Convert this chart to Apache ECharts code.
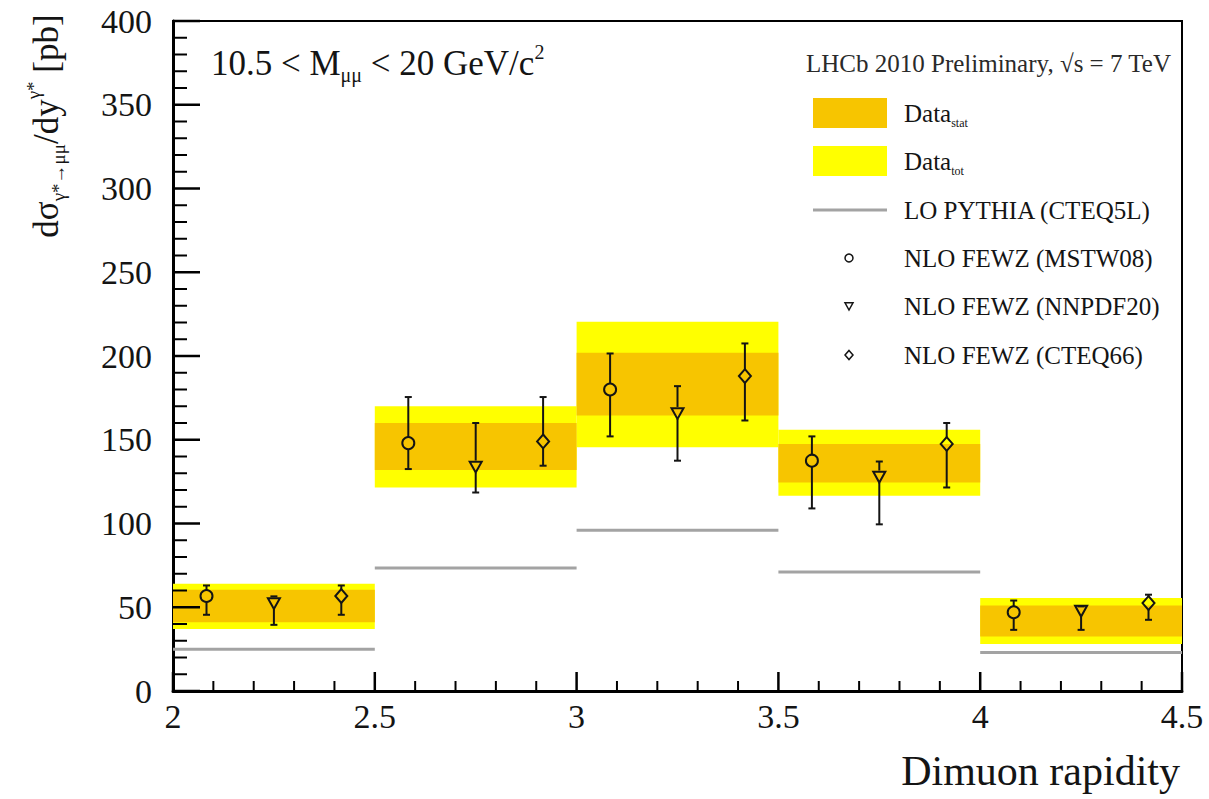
<!DOCTYPE html>
<html>
<head>
<meta charset="utf-8">
<script src="https://cdn.jsdelivr.net/npm/echarts@6/dist/echarts.min.js"></script>
<style>
  html, body { margin: 0; padding: 0; background: #fff; }
  #chart { width: 1209px; height: 799px; }
</style>
</head>
<body>
<div id="chart"></div>
<script>
// Rapidity bins
const binLo = [2.0, 2.5, 3.0, 3.5, 4.0];
const binHi = [2.5, 3.0, 3.5, 4.0, 4.5];

// Measured cross-section bands [pb]: total and statistical uncertainty
const totLo  = [37.0, 121.5, 145.5, 116.5, 28.0];
const totHi  = [64.0, 170.0, 220.5, 156.0, 55.5];
const statLo = [41.0, 132.0, 164.5, 124.5, 32.5];
const statHi = [60.5, 160.0, 202.0, 147.5, 51.0];

// LO PYTHIA (CTEQ5L) prediction per bin
const pythia = [25.0, 73.5, 96.0, 71.0, 23.0];

// NLO FEWZ predictions, drawn at 1/6, 1/2 and 5/6 of each bin
const mstwX  = [2.083, 2.583, 3.083, 3.583, 4.083];
const mstwV  = [56.7, 148.0, 180.0, 137.5, 47.0];
const mstwLo = [45.5, 132.5, 152.0, 109.0, 36.5];
const mstwHi = [63.0, 175.5, 201.5, 152.0, 54.0];

const nnpdfX  = [2.25, 2.75, 3.25, 3.75, 4.25];
const nnpdfV  = [52.5, 134.0, 166.0, 128.0, 48.0];
const nnpdfLo = [39.5, 118.5, 137.5, 99.5, 36.5];
const nnpdfHi = [56.5, 160.0, 182.0, 137.0, 50.5];

const cteqX  = [2.417, 2.917, 3.417, 3.917, 4.417];
const cteqV  = [56.7, 149.0, 188.0, 147.5, 52.5];
const cteqLo = [45.5, 134.5, 161.5, 121.5, 42.5];
const cteqHi = [63.0, 175.5, 207.5, 160.0, 57.5];

// Axis ticks (major), each split into 5 minor divisions
const xTicks = [2, 2.5, 3, 3.5, 4, 4.5];
const yTicks = [0, 50, 100, 150, 200, 250, 300, 350, 400];
const minorDivisions = 5;

const SERIF = '"Liberation Serif", "Times New Roman", serif';
const ORANGE = '#f7c500';
const YELLOW = '#ffff00';
const GREY = '#a3a3a3';
const INK = '#141414';

const chart = echarts.init(document.getElementById('chart'), null, { renderer: 'svg' });

// Major + minor tick positions: [value, isMajor]
function tickList(majors, sub) {
  const out = [];
  for (let i = 0; i < majors.length - 1; i++) {
    const step = (majors[i + 1] - majors[i]) / sub;
    for (let k = 0; k < sub; k++) out.push([majors[i] + k * step, k === 0 ? 1 : 0]);
  }
  out.push([majors[majors.length - 1], 1]);
  return out;
}

// Inward-pointing frame ticks
function tickSeries(isX) {
  const list = tickList(isX ? xTicks : yTicks, minorDivisions);
  return {
    type: 'custom', silent: true, z: 10, clip: false,
    data: list.map(t => isX ? [t[0], yTicks[0], t[1]] : [xTicks[0], t[0], t[1]]),
    encode: { x: 0, y: 1 },
    renderItem(params, api) {
      const p = api.coord([api.value(0), api.value(1)]);
      const major = api.value(2) === 1;
      const len = isX ? (major ? 19 : 10) : (major ? 27 : 14);
      const shape = isX ? { x1: p[0], y1: p[1], x2: p[0], y2: p[1] - len }
                        : { x1: p[0], y1: p[1], x2: p[0] + len, y2: p[1] };
      return { type: 'line', shape, style: { stroke: '#000', lineWidth: major ? 2.5 : 2 } };
    }
  };
}

function bandSeries(name, lo, hi, color, z) {
  return {
    type: 'custom', name, silent: true, z,
    data: binLo.map((x, i) => [x, binHi[i], lo[i], hi[i]]),
    encode: { x: [0, 1], y: [2, 3] },
    renderItem(params, api) {
      const a = api.coord([api.value(0), api.value(3)]);
      const b = api.coord([api.value(1), api.value(2)]);
      return { type: 'rect', shape: { x: a[0], y: a[1], width: b[0] - a[0], height: b[1] - a[1] },
               style: { fill: color } };
    }
  };
}

function stepSeries(name, vals) {
  return {
    type: 'custom', name, silent: true, z: 3,
    data: binLo.map((x, i) => [x, binHi[i], vals[i]]),
    encode: { x: [0, 1], y: 2 },
    renderItem(params, api) {
      const a = api.coord([api.value(0), api.value(2)]);
      const b = api.coord([api.value(1), api.value(2)]);
      return { type: 'line', shape: { x1: a[0], y1: a[1], x2: b[0], y2: b[1] },
               style: { stroke: GREY, lineWidth: 3 } };
    }
  };
}

function markerShape(kind, cx, cy, s, lw) {
  const style = { fill: 'none', stroke: INK, lineWidth: lw };
  if (kind === 'circle') return { type: 'circle', shape: { cx, cy, r: s }, style };
  if (kind === 'tri') return { type: 'polygon', shape: { points: [[cx - s, cy - s * 0.8], [cx + s, cy - s * 0.8], [cx, cy + s]] }, style };
  return { type: 'polygon', shape: { points: [[cx, cy - s * 1.15], [cx + s, cy], [cx, cy + s * 1.15], [cx - s, cy]] }, style };
}

function pointSeries(name, xs, v, lo, hi, kind) {
  return {
    type: 'custom', name, silent: true, z: 5,
    data: xs.map((x, i) => [x, v[i], lo[i], hi[i]]),
    encode: { x: 0, y: [1, 2, 3] },
    renderItem(params, api) {
      const c = api.coord([api.value(0), api.value(1)]);
      const yl = api.coord([api.value(0), api.value(2)])[1];
      const yh = api.coord([api.value(0), api.value(3)])[1];
      const r = 6, cap = 3.5;
      const kids = [];
      const line = (x1, y1, x2, y2) => kids.push({ type: 'line', shape: { x1, y1, x2, y2 }, style: { stroke: INK, lineWidth: 2 } });
      if (yh < c[1] - r) line(c[0], yh, c[0], c[1] - r);
      if (yl > c[1] + r) line(c[0], c[1] + r, c[0], yl);
      line(c[0] - cap, yh, c[0] + cap, yh);
      line(c[0] - cap, yl, c[0] + cap, yl);
      kids.push(markerShape(kind, c[0], c[1], r, 2));
      return { type: 'group', children: kids };
    }
  };
}

const legendX = 904;
const legendRows = [113, 161, 210, 258, 306, 355];
const legendFont = 25;
const legendText = (y, text, rich) => ({
  type: 'text', x: legendX, y,
  style: Object.assign({ text, fontFamily: SERIF, fontSize: legendFont, fill: INK, align: 'left', verticalAlign: 'middle' }, rich ? { rich } : {})
});
const subRich = {
  a: { fontFamily: SERIF, fontSize: legendFont, lineHeight: 31, fill: INK },
  s: { fontFamily: SERIF, fontSize: 12, lineHeight: 12, verticalAlign: 'bottom', fill: INK }
};

const option = {
  backgroundColor: '#fff',
  animation: false,
  grid: { left: 173, top: 21, width: 1009, height: 670, show: true, borderColor: '#000', borderWidth: 2, backgroundColor: 'transparent' },
  xAxis: {
    type: 'value', min: xTicks[0], max: xTicks[xTicks.length - 1], interval: 0.5,
    axisLine: { show: true, onZero: false, lineStyle: { color: '#000', width: 3 } },
    axisTick: { show: false },
    minorTick: { show: false },
    splitLine: { show: false },
    axisLabel: { margin: 8, fontSize: 34, fontFamily: SERIF, color: INK, formatter: v => String(v) }
  },
  yAxis: {
    type: 'value', min: yTicks[0], max: yTicks[yTicks.length - 1], interval: 50,
    axisLine: { show: true, onZero: false, lineStyle: { color: '#000', width: 3 } },
    axisTick: { show: false },
    minorTick: { show: false },
    splitLine: { show: false },
    axisLabel: { margin: 21, fontSize: 34, fontFamily: SERIF, color: INK }
  },
  series: [
    bandSeries('Data tot', totLo, totHi, YELLOW, 1),
    bandSeries('Data stat', statLo, statHi, ORANGE, 2),
    stepSeries('LO PYTHIA (CTEQ5L)', pythia),
    pointSeries('NLO FEWZ (MSTW08)', mstwX, mstwV, mstwLo, mstwHi, 'circle'),
    pointSeries('NLO FEWZ (NNPDF20)', nnpdfX, nnpdfV, nnpdfLo, nnpdfHi, 'tri'),
    pointSeries('NLO FEWZ (CTEQ66)', cteqX, cteqV, cteqLo, cteqHi, 'diamond'),
    tickSeries(true),
    tickSeries(false)
  ],
  graphic: [
    // y-axis title
    {
      type: 'text', x: 46, y: 126, rotation: Math.PI / 2,
      style: {
        text: '{b|dσ}{s|γ*→μμ}{b|/dy}{p|γ*}{b| [pb]}',
        align: 'center', verticalAlign: 'middle', fill: INK,
        rich: {
          b: { fontFamily: SERIF, fontSize: 35, lineHeight: 44, fill: INK },
          s: { fontFamily: SERIF, fontSize: 19, lineHeight: 19, verticalAlign: 'bottom', fill: INK },
          p: { fontFamily: SERIF, fontSize: 19, lineHeight: 19, verticalAlign: 'top', fill: INK }
        }
      }
    },
    // x-axis title
    {
      type: 'text', x: 1180, y: 771,
      style: { text: 'Dimuon rapidity', fontFamily: SERIF, fontSize: 42, fill: INK, align: 'right', verticalAlign: 'middle' }
    },
    // mass window label
    {
      type: 'text', x: 211, y: 63,
      style: {
        text: '{b|10.5 < M}{s|μμ}{b| < 20 GeV/c}{p|2}',
        align: 'left', verticalAlign: 'middle', fill: INK,
        rich: {
          b: { fontFamily: SERIF, fontSize: 35, lineHeight: 43, fill: INK },
          s: { fontFamily: SERIF, fontSize: 20, lineHeight: 20, verticalAlign: 'bottom', fill: INK },
          p: { fontFamily: SERIF, fontSize: 20, lineHeight: 20, verticalAlign: 'top', fill: INK }
        }
      }
    },
    // legend block
    {
      type: 'text', x: 806, y: 63,
      style: { text: 'LHCb 2010 Preliminary, √s = 7 TeV', fontFamily: SERIF, fontSize: 25, fill: '#2a2a2a', align: 'left', verticalAlign: 'middle' }
    },
    { type: 'rect', shape: { x: 813, y: legendRows[0] - 15, width: 74, height: 30 }, style: { fill: ORANGE } },
    legendText(legendRows[0], '{a|Data}{s|stat}', subRich),
    { type: 'rect', shape: { x: 813, y: legendRows[1] - 15, width: 74, height: 30 }, style: { fill: YELLOW } },
    legendText(legendRows[1], '{a|Data}{s|tot}', subRich),
    { type: 'line', shape: { x1: 813, y1: legendRows[2], x2: 887, y2: legendRows[2] }, style: { stroke: GREY, lineWidth: 3 } },
    legendText(legendRows[2], 'LO PYTHIA (CTEQ5L)'),
    markerShape('circle', 849, legendRows[3], 4, 1.5),
    legendText(legendRows[3], 'NLO FEWZ (MSTW08)'),
    markerShape('tri', 849, legendRows[4], 4, 1.5),
    legendText(legendRows[4], 'NLO FEWZ (NNPDF20)'),
    markerShape('diamond', 849, legendRows[5], 4, 1.5),
    legendText(legendRows[5], 'NLO FEWZ (CTEQ66)')
  ]
};

chart.setOption(option);
</script>
</body>
</html>
